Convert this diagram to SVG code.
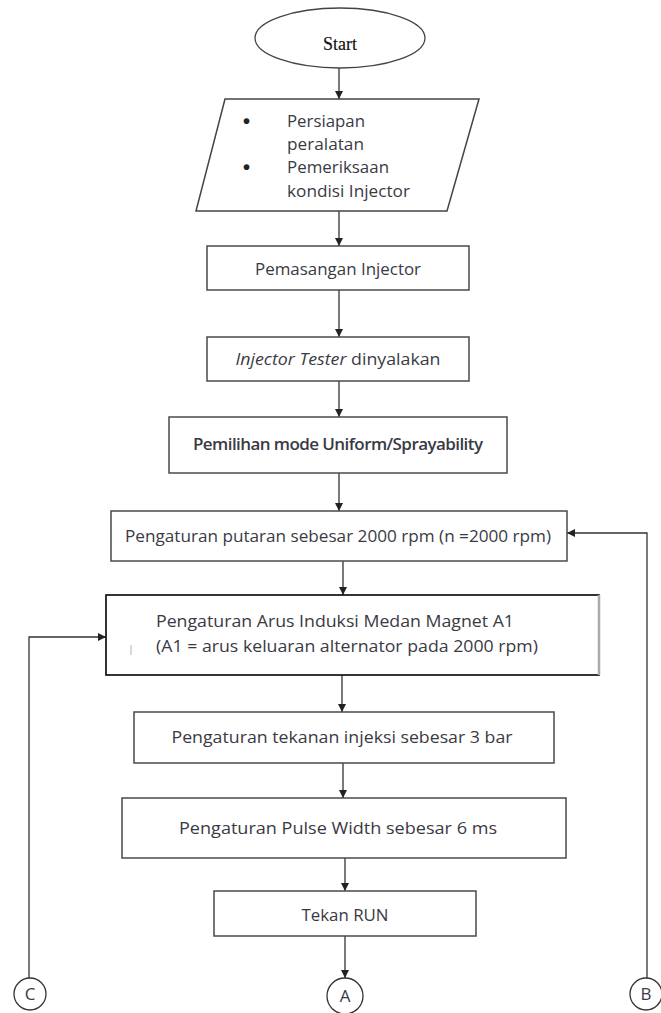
<svg xmlns="http://www.w3.org/2000/svg" width="661" height="1013" viewBox="0 0 661 1013">
<style>
.box{fill:#fff;stroke:#4a4a4a;stroke-width:1.5}
.t{font-family:"Open Sans","Liberation Sans",sans-serif;font-size:17px;fill:#3a3a44;text-anchor:middle}
.tl{font-family:"Open Sans","Liberation Sans",sans-serif;font-size:17px;fill:#3a3a44}
.bul{font-family:"Liberation Sans",sans-serif;font-size:20px;font-weight:bold;fill:#222}
.c{fill:none;stroke:#333;stroke-width:1.3}
</style>
<defs>
<marker id="ah" markerWidth="8" markerHeight="8" refX="8" refY="4" orient="auto" markerUnits="userSpaceOnUse">
<path d="M0,0 L8,4 L0,8 Z" fill="#222"/>
</marker>
</defs>

<g id="connectors">
<line class="c" x1="339" y1="68" x2="339" y2="99" marker-end="url(#ah)"/>
<line class="c" x1="339" y1="211" x2="339" y2="246" marker-end="url(#ah)"/>
<line class="c" x1="339" y1="290" x2="339" y2="337" marker-end="url(#ah)"/>
<line class="c" x1="339" y1="381" x2="339" y2="417" marker-end="url(#ah)"/>
<line class="c" x1="339" y1="473" x2="339" y2="511" marker-end="url(#ah)"/>
<line class="c" x1="343" y1="561" x2="343" y2="595" marker-end="url(#ah)"/>
<line class="c" x1="342" y1="675" x2="342" y2="712" marker-end="url(#ah)"/>
<line class="c" x1="343" y1="763" x2="343" y2="798" marker-end="url(#ah)"/>
<line class="c" x1="345" y1="858" x2="345" y2="891" marker-end="url(#ah)"/>
<line class="c" x1="345" y1="936" x2="345" y2="978" marker-end="url(#ah)"/>
<polyline class="c" points="647,978 647,533 567,533" marker-end="url(#ah)"/>
<polyline class="c" points="29,978 29,637 106,637" marker-end="url(#ah)"/>
</g>

<g id="start">
<ellipse cx="340" cy="38" rx="85" ry="30" fill="#fff" stroke="#444" stroke-width="1.3"/>
<text x="340" y="50" text-anchor="middle" font-family="Liberation Serif,serif" font-size="18" fill="#111" stroke="#111" stroke-width="0.15">Start</text>
</g>

<g id="persiapan">
<polygon points="225,99 479,99 447,211 196,211" fill="#fff" stroke="#444" stroke-width="1.5"/>
<text class="bul" x="243" y="128">•</text>
<text class="tl" x="287" y="127" textLength="78" lengthAdjust="spacingAndGlyphs">Persiapan</text>
<text class="tl" x="287" y="150" textLength="77" lengthAdjust="spacingAndGlyphs">peralatan</text>
<text class="bul" x="243" y="174">•</text>
<text class="tl" x="287" y="173" textLength="102" lengthAdjust="spacingAndGlyphs">Pemeriksaan</text>
<text class="tl" x="287" y="197" textLength="123" lengthAdjust="spacingAndGlyphs">kondisi Injector</text>
</g>

<g id="pemasangan">
<rect class="box" x="207" y="246" width="262" height="44"/>
<text class="t" x="338" y="275" textLength="166" lengthAdjust="spacingAndGlyphs">Pemasangan Injector</text>
</g>

<g id="tester">
<rect class="box" x="207" y="337" width="262" height="44"/>
<text class="t" x="338" y="365" textLength="205" lengthAdjust="spacingAndGlyphs"><tspan font-style="italic">Injector Tester</tspan> dinyalakan</text>
</g>

<g id="mode">
<rect class="box" x="169" y="417" width="338" height="56" stroke="#555"/>
<text class="t" x="338" y="450" font-size="14" font-weight="600" fill="#4a4b5e" textLength="290" lengthAdjust="spacing">Pemilihan mode Uniform/Sprayability</text>
</g>

<g id="putaran">
<rect class="box" x="111" y="511" width="456" height="50" stroke="#555"/>
<text class="t" x="338" y="542" textLength="426" lengthAdjust="spacingAndGlyphs">Pengaturan putaran sebesar 2000 rpm (n =2000 rpm)</text>
</g>

<g id="arus">
<rect x="106" y="595" width="493" height="80" fill="#fff" stroke="#111" stroke-width="1.7"/>
<line x1="599" y1="595" x2="599" y2="675" stroke="#aaa" stroke-width="2.5"/>
<line x1="131" y1="645" x2="131" y2="655" stroke="#ccc" stroke-width="1.5"/>
<text class="tl" x="156" y="627" textLength="358" lengthAdjust="spacingAndGlyphs">Pengaturan Arus Induksi Medan Magnet A1</text>
<text class="tl" x="156" y="652" textLength="382" lengthAdjust="spacingAndGlyphs">(A1 = arus keluaran alternator pada 2000 rpm)</text>
</g>

<g id="tekanan">
<rect class="box" x="134" y="712" width="420" height="51" stroke="#777"/>
<text class="t" x="342" y="743" fill="#3c4150" textLength="341" lengthAdjust="spacingAndGlyphs">Pengaturan tekanan injeksi sebesar 3 bar</text>
</g>

<g id="pulse">
<rect class="box" x="122" y="798" width="444" height="60"/>
<text class="t" x="338" y="834" textLength="318" lengthAdjust="spacingAndGlyphs">Pengaturan Pulse Width sebesar 6 ms</text>
</g>

<g id="run">
<rect class="box" x="214" y="891" width="262" height="45"/>
<text class="t" x="345" y="921" textLength="87" lengthAdjust="spacingAndGlyphs">Tekan RUN</text>
</g>

<g id="conC">
<circle cx="30" cy="994" r="16" fill="#fff" stroke="#333" stroke-width="1.3"/>
<text class="t" x="30" y="1000">C</text>
</g>
<g id="conA">
<circle cx="345" cy="996" r="18" fill="#fff" stroke="#333" stroke-width="1.3"/>
<text class="t" x="345" y="1002">A</text>
</g>
<g id="conB">
<circle cx="646" cy="994" r="16" fill="#fff" stroke="#333" stroke-width="1.3"/>
<text class="t" x="646" y="1000">B</text>
</g>
</svg>
